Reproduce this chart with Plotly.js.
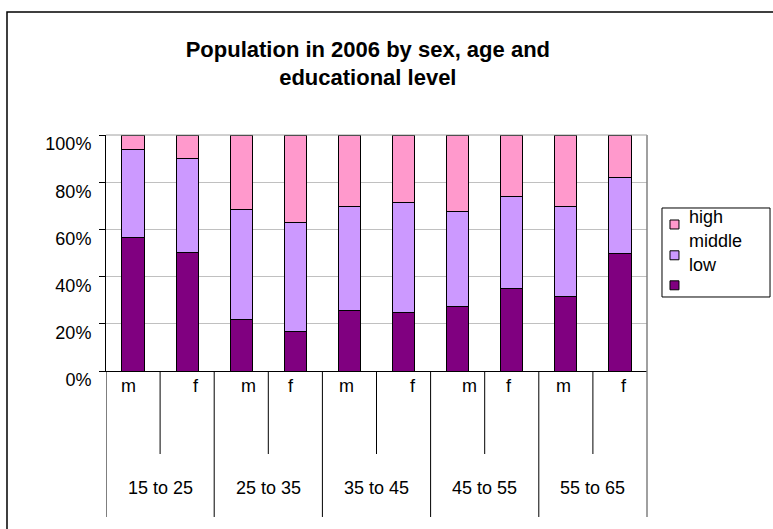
<!DOCTYPE html>
<html>
<head>
<meta charset="utf-8">
<script src="https://cdn.plot.ly/plotly-3.0.1.min.js"></script>
<style>
  html, body { margin: 0; padding: 0; background: #ffffff; }
  #chart { width: 773px; height: 529px; }
</style>
</head>
<body>
<div id="chart"></div>
<script>
// ---- data ----
const sexes = ['m', 'f', 'm', 'f', 'm', 'f', 'm', 'f', 'm', 'f'];
const ageGroups = ['15 to 25', '25 to 35', '35 to 45', '45 to 55', '55 to 65'];
const levelNames = ['low', 'middle', 'high'];
const low    = [56.7, 50.4, 21.9, 16.8, 25.5, 24.9, 27.2, 34.9, 31.4, 49.8];
const middle = [37.1, 39.8, 46.6, 46.0, 44.1, 46.5, 40.5, 38.9, 38.2, 32.1];
const high   = [ 6.2,  9.8, 31.5, 37.2, 30.4, 28.6, 32.3, 26.2, 30.4, 18.1];
const tickValues = [0, 20, 40, 60, 80, 100];
const tickLabels = ['0%', '20%', '40%', '60%', '80%', '100%'];
const titleText = 'Population in 2006 by sex, age and<br>educational level';

// ---- styling ----
const colors = { low: '#800080', middle: '#CC99FF', high: '#FF99CC' };
const FONT = '"Liberation Sans", Arial, sans-serif';
const series = { low: low, middle: middle, high: high };
const xIdx = sexes.map((_, i) => i);

const traces = levelNames.map(name => ({
  type: 'bar',
  name: name,
  x: xIdx,
  y: series[name],
  width: 0.41,
  marker: { color: colors[name], line: { color: '#000000', width: 1 } },
  hoverinfo: 'y+name'
}));

const shapes = [];
const annotations = [];

// category dividers below the axis
for (let i = 1; i < sexes.length; i++) {
  const isGroup = (i % 2 === 0);
  shapes.push({
    type: 'line', xref: 'x', yref: 'paper',
    x0: i - 0.5, x1: i - 0.5, y0: 0, y1: isGroup ? -0.6186 : -0.3517,
    line: { color: '#000000', width: 1 }
  });
}
// left continuation of the axis
shapes.push({ type: 'line', xref: 'x', yref: 'paper', x0: -0.5, x1: -0.5, y0: 0, y1: -0.6186,
  line: { color: '#000000', width: 1 } });
// right plot border (gray)
shapes.push({ type: 'line', xref: 'paper', yref: 'paper', x0: 1, x1: 1, y0: -0.6186, y1: 1,
  line: { color: '#808080', width: 1.5 } });
// top plot border
shapes.push({ type: 'line', xref: 'paper', yref: 'paper', x0: 0, x1: 1, y0: 1, y1: 1,
  line: { color: '#a0a0a0', width: 1 } });
// outer chart frame
shapes.push({ type: 'rect', xref: 'paper', yref: 'paper', x0: -0.183, x1: 1.5, y0: -1, y1: 1.521,
  line: { color: '#000000', width: 1.5 }, fillcolor: 'rgba(0,0,0,0)' });

// sex labels under each bar
const labelShift = [-0.075, 0.16, 0.14, -0.08, -0.06, 0.17, 0.21, -0.05, -0.05, 0.07];
sexes.forEach((s, i) => {
  annotations.push({ xref: 'x', yref: 'paper', x: i + labelShift[i], y: -0.0636,
    text: s, showarrow: false, xanchor: 'center', yanchor: 'middle',
    font: { family: FONT, size: 18, color: '#000000' } });
});
// age group labels
ageGroups.forEach((g, k) => {
  annotations.push({ xref: 'x', yref: 'paper', x: 2 * k + 0.5, y: -0.4958,
    text: g, showarrow: false, xanchor: 'center', yanchor: 'middle',
    font: { family: FONT, size: 18, color: '#000000' } });
});

// custom legend (reproduces the offset labels of the reference)
shapes.push({ type: 'rect', xref: 'paper', yref: 'paper', x0: 1.0277, x1: 1.2274, y0: 0.3136, y1: 0.6907,
  line: { color: '#000000', width: 1 }, fillcolor: '#ffffff' });
const legendOrder = ['high', 'middle', 'low'];
const swatchY = [0.6208, 0.4903, 0.3631];
const textY = [0.6525, 0.5508, 0.4492];
legendOrder.forEach((name, k) => {
  shapes.push({ type: 'rect', xref: 'paper', yref: 'paper',
    x0: 1.0425, x1: 1.0591, y0: swatchY[k] - 0.019, y1: swatchY[k] + 0.019,
    line: { color: '#000000', width: 1 }, fillcolor: colors[name] });
  annotations.push({ xref: 'paper', yref: 'paper', x: 1.0734, y: textY[k],
    text: name, showarrow: false, xanchor: 'left', yanchor: 'middle',
    font: { family: FONT, size: 18, color: '#000000' } });
});

const layout = {
  width: 773, height: 529,
  margin: { l: 106, r: 126, t: 135, b: 158, pad: 0 },
  paper_bgcolor: '#ffffff', plot_bgcolor: '#ffffff',
  barmode: 'stack',
  showlegend: false,
  font: { family: FONT, color: '#000000' },
  title: {
    text: titleText,
    font: { family: FONT, size: 22, color: '#000000', weight: 'bold' },
    xref: 'paper', x: 0.484, xanchor: 'center',
    yref: 'container', y: 0.893, yanchor: 'top'
  },
  xaxis: {
    range: [-0.5, sexes.length - 0.5],
    showticklabels: false, ticks: '', showgrid: false, zeroline: false,
    showline: true, linecolor: '#000000', linewidth: 1, fixedrange: true
  },
  yaxis: {
    range: [0, 100], tickvals: tickValues, ticktext: tickLabels,
    ticks: 'outside', ticklen: 6, tickcolor: '#000000', tickwidth: 1,
    ticklabelshift: 9, ticklabelstandoff: 4,
    showgrid: true, gridcolor: '#c0c0c0', gridwidth: 1, zeroline: false,
    showline: true, linecolor: '#000000', linewidth: 1,
    tickfont: { family: FONT, size: 18, color: '#000000' }, fixedrange: true
  },
  shapes: shapes,
  annotations: annotations
};

Plotly.newPlot('chart', traces, layout, { displayModeBar: false, staticPlot: true });
</script>
</body>
</html>
